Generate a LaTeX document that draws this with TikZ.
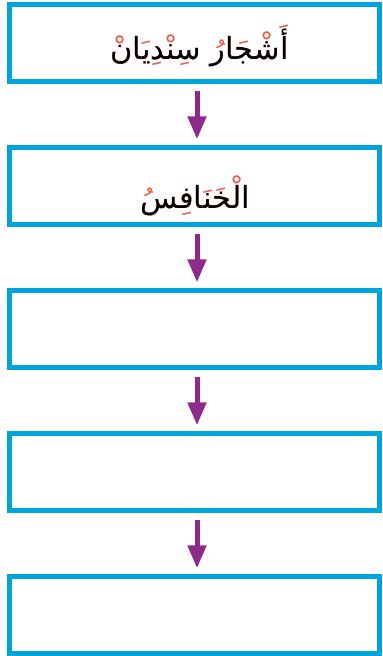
\documentclass[tikz,border=0pt]{standalone}
\usepackage{fontspec}
\usetikzlibrary{arrows.meta}
\TeXXeTstate=1
\newfontfamily\arabicfont[Script=Arabic]{DejaVu Sans}
\definecolor{chainCyan}{HTML}{00A3DA}
\definecolor{chainPurple}{HTML}{8E2A8A}
\definecolor{chainMark}{HTML}{E8604C}
\tikzset{
  chain box/.style={draw=chainCyan, fill=white, line width=0.15cm,
    minimum width=11.1cm, minimum height=2.31cm, inner sep=0pt},
  chain arrow/.style={chainPurple, line width=0.15cm,
    -{Triangle[length=6.9mm,width=5.4mm]}, shorten <=0.2cm, shorten >=0.17cm},
  chain text/.style={font=\arabicfont\fontsize{26}{30}\selectfont, inner sep=0pt},
}
% red harakat under the black letters
\newcommand{\vocalized}[2]{%
  \makebox[0pt]{\textcolor{chainMark}{#1}}%
  \makebox[0pt]{#2}}

\begin{document}
\begin{tikzpicture}
  \useasboundingbox (0,0) rectangle (11.49,19.68);

  % ===== Boxes of the food chain =====
  \foreach \i/\y in {1/18.39, 2/14.1, 3/9.81, 4/5.52, 5/1.23}
    \node[chain box] (b\i) at (5.835,\y) {};

  % ===== Arrows =====
  \foreach \i/\j in {1/2, 2/3, 3/4, 4/5}
    \draw[chain arrow] ([xshift=0.075cm]b\i.south) -- ([xshift=0.075cm]b\j.north);

  % ===== Labels =====
  \node[chain text] (t1) at ([xshift=0.15cm,yshift=-0.08cm]b1.center)
    {\vocalized{\beginR أَشْجَارُ سِنْدِيَانْ\endR}{\beginR أشجار سنديان\endR}};
  \node[chain text] (t2) at ([xshift=0.02cm,yshift=-0.3cm]b2.center)
    {\vocalized{\beginR الْخَنَافِسُ\endR}{\beginR الخنافس\endR}};
\end{tikzpicture}
\end{document}
